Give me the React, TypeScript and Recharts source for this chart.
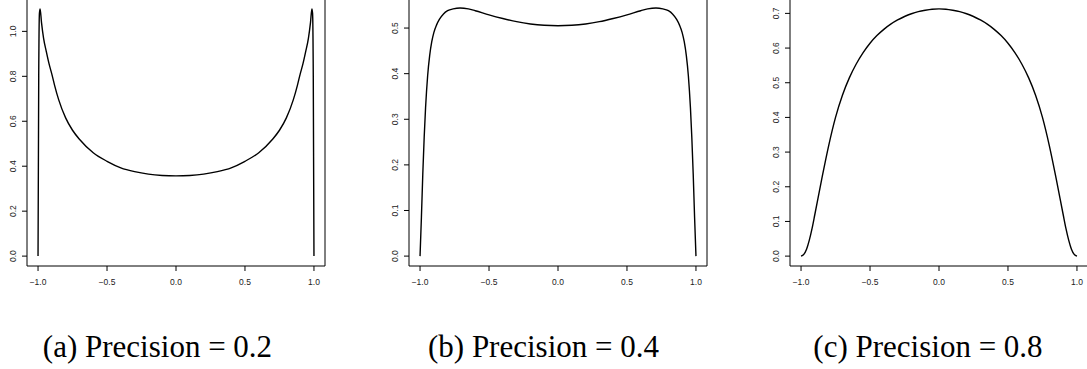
import { LineChart, Line, XAxis, YAxis, ReferenceLine } from 'recharts'

// valores (densidades em [-1, 1])
const xA = [-1, -0.995, -0.99, -0.985, -0.975, -0.96, -0.94, -0.92, -0.9, -0.88, -0.85, -0.8, -0.75, -0.7, -0.6, -0.5, -0.4, -0.3, -0.2, -0.1, 0,
  0.1, 0.2, 0.3, 0.4, 0.5, 0.6, 0.7, 0.75, 0.8, 0.85, 0.88, 0.9, 0.92, 0.94, 0.96, 0.975, 0.985, 0.99, 0.995, 1]
const yA = [0, 0.8, 1.08, 1.1, 1.04, 0.97, 0.91, 0.855, 0.81, 0.76, 0.695, 0.615, 0.56, 0.52, 0.46, 0.422, 0.393, 0.376, 0.365, 0.359, 0.357,
  0.359, 0.365, 0.376, 0.393, 0.422, 0.46, 0.52, 0.56, 0.615, 0.695, 0.76, 0.81, 0.855, 0.91, 0.97, 1.04, 1.1, 1.08, 0.8, 0]

const xB = [-1, -0.99, -0.98, -0.97, -0.96, -0.945, -0.93, -0.915, -0.9, -0.88, -0.86, -0.83, -0.8, -0.76, -0.71, -0.65, -0.6, -0.5, -0.4, -0.3, -0.2, -0.1, 0,
  0.1, 0.2, 0.3, 0.4, 0.5, 0.6, 0.65, 0.71, 0.76, 0.8, 0.83, 0.86, 0.88, 0.9, 0.915, 0.93, 0.945, 0.96, 0.97, 0.98, 0.99, 1]
const yB = [0, 0.085, 0.18, 0.26, 0.325, 0.395, 0.44, 0.47, 0.49, 0.507, 0.519, 0.531, 0.538, 0.542, 0.544, 0.542, 0.538, 0.529, 0.521, 0.514, 0.509, 0.506, 0.505,
  0.506, 0.509, 0.514, 0.521, 0.529, 0.538, 0.542, 0.544, 0.542, 0.538, 0.531, 0.519, 0.507, 0.49, 0.47, 0.44, 0.395, 0.325, 0.26, 0.18, 0.085, 0]

const xC = [-1, -0.98, -0.96, -0.94, -0.92, -0.9, -0.85, -0.8, -0.75, -0.7, -0.65, -0.6, -0.55, -0.5, -0.45, -0.4, -0.35, -0.3, -0.25, -0.2, -0.15, -0.1, -0.05, 0,
  0.05, 0.1, 0.15, 0.2, 0.25, 0.3, 0.35, 0.4, 0.45, 0.5, 0.55, 0.6, 0.65, 0.7, 0.75, 0.8, 0.85, 0.9, 0.92, 0.94, 0.96, 0.98, 1]
const yC = [0, 0.005, 0.02, 0.046, 0.08, 0.12, 0.222, 0.318, 0.4, 0.464, 0.514, 0.554, 0.587, 0.614, 0.636, 0.654, 0.669, 0.681, 0.691, 0.699, 0.705, 0.709, 0.712, 0.713,
  0.712, 0.709, 0.705, 0.699, 0.691, 0.681, 0.669, 0.654, 0.636, 0.614, 0.587, 0.554, 0.514, 0.464, 0.4, 0.318, 0.222, 0.12, 0.08, 0.046, 0.02, 0.005, 0]

const xTicks = [-1, -0.5, 0, 0.5, 1]
const yTicksA = [0, 0.2, 0.4, 0.6, 0.8, 1.0]
const yTicksB = [0, 0.1, 0.2, 0.3, 0.4, 0.5]
const yTicksC = [0, 0.1, 0.2, 0.3, 0.4, 0.5, 0.6, 0.7]

const captions = ['(a) Precision = 0.2', '(b) Precision = 0.4', '(c) Precision = 0.8']

const fmt = (v: number) => v.toFixed(1).replace('-', '\u2212')

const YTick = (props: any) => {
  const { x, y, payload } = props
  return (
    <text x={x} y={y} transform={`rotate(-90 ${x} ${y})`} textAnchor="middle"
      fontSize={8.5} fill="#222" fontFamily="Liberation Sans, Arial, sans-serif">
      {fmt(payload.value)}
    </text>
  )
}

type PanelProps = {
  left: number
  xs: number[]
  ys: number[]
  yDomain: [number, number]
  yTicks: number[]
}

function Panel({ left, xs, ys, yDomain, yTicks }: PanelProps) {
  const data = xs.map((x, i) => ({ x, y: ys[i] }))
  return (
    <div style={{ position: 'absolute', left, top: -1 }}>
      <LineChart width={327} height={297} data={data} margin={{ top: 0, right: 2, left: 0, bottom: 0 }}>
        <XAxis dataKey="x" type="number" domain={[-1.08, 1.08]} ticks={xTicks} interval={0}
          allowDataOverflow height={30} tickSize={5} tickMargin={8}
          stroke="#000" tickFormatter={fmt}
          tick={{ fontSize: 8.5, fill: '#222', fontFamily: 'Liberation Sans, Arial, sans-serif' }} />
        <YAxis type="number" domain={yDomain} ticks={yTicks} interval={0} allowDataOverflow
          width={27} tickSize={5} tickMargin={6} stroke="#000" tick={<YTick />} />
        <ReferenceLine x={1.08} stroke="#000" />
        <ReferenceLine y={yDomain[1]} stroke="#000" />
        <Line dataKey="y" type="monotone" dot={false} stroke="#000" strokeWidth={1.4} isAnimationActive={false} />
      </LineChart>
    </div>
  )
}

export default function App() {
  const capPos = [{ left: 40, width: 235 }, { left: 422, width: 243 }, { left: 807, width: 242 }]
  return (
    <div style={{ position: 'absolute', left: 0, top: 0, width: 1087, height: 369, overflow: 'hidden', background: '#fff' }}>
      <Panel left={0} xs={xA} ys={yA} yDomain={[-0.044, 1.144]} yTicks={yTicksA} />
      <Panel left={382} xs={xB} ys={yB} yDomain={[-0.0217, 0.5637]} yTicks={yTicksB} />
      <Panel left={763} xs={xC} ys={yC} yDomain={[-0.0285, 0.7415]} yTicks={yTicksC} />
      {captions.map((c, i) => (
        <div key={c} style={{
          position: 'absolute', top: 332, left: capPos[i].left - 20, width: capPos[i].width + 40,
          textAlign: 'center', fontFamily: '"Liberation Serif", "Times New Roman", serif',
          fontSize: 31, lineHeight: '30px', color: '#000', whiteSpace: 'nowrap',
        }}>{c}</div>
      ))}
    </div>
  )
}
